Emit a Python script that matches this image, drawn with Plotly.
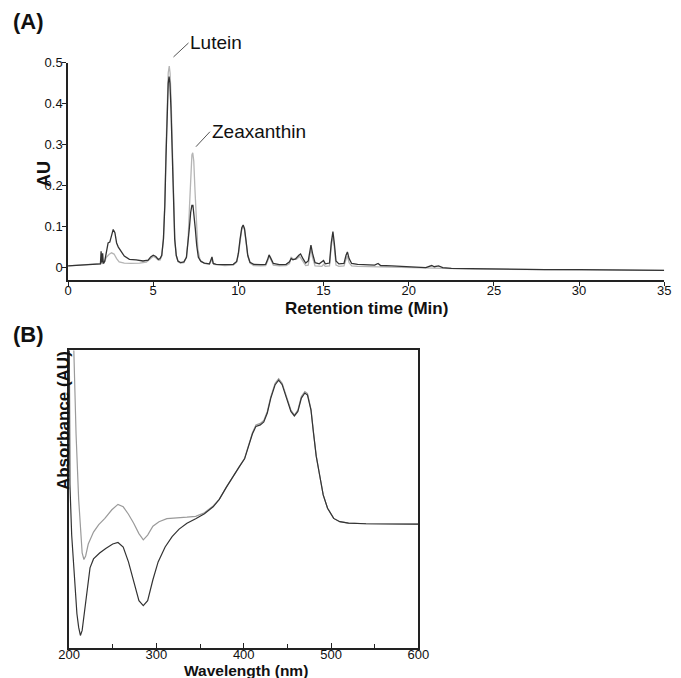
import plotly.graph_objs as go

# ---------------------------
# Data
# ---------------------------

# (A) HPLC chromatogram, retention time (min) vs AU
time_dark = [0, 0.5, 1.0, 1.5, 1.9, 1.94, 1.98, 2.03, 2.07, 2.15, 2.25, 2.35, 2.45, 2.55,
             2.65, 2.75, 2.85, 2.95, 3.1, 3.3, 3.6, 4.0, 4.4, 4.7, 4.85, 5.0, 5.15, 5.3,
             5.4, 5.5, 5.6, 5.68, 5.75, 5.82, 5.88, 5.93, 5.98, 6.04, 6.11, 6.18, 6.26,
             6.35, 6.45, 6.6, 6.8, 6.95, 7.05, 7.13, 7.2, 7.27, 7.33, 7.4, 7.47, 7.55,
             7.65, 7.8, 8.0, 8.3, 8.4, 8.45, 8.52, 8.7, 9.2, 9.7, 9.9, 10.0, 10.1, 10.2,
             10.28, 10.36, 10.45, 10.55, 10.68, 10.9, 11.3, 11.6, 11.72, 11.8, 11.9,
             12.05, 12.4, 12.8, 13.0, 13.1, 13.2, 13.35, 13.55, 13.65, 13.8, 13.95, 14.1,
             14.2, 14.26, 14.35, 14.5, 14.75, 14.92, 15.0, 15.1, 15.35, 15.45, 15.55,
             15.63, 15.73, 15.9, 16.2, 16.32, 16.4, 16.5, 16.65, 17.0, 17.5, 18.0, 18.2,
             18.35, 19.0, 20.0, 21.0, 21.35, 21.5, 21.75, 22.0, 22.5, 24, 26, 28, 30, 32, 35]
au_dark = [0.004, 0.005, 0.006, 0.008, 0.009, 0.04, 0.012, 0.035, 0.01, 0.015, 0.04, 0.06,
           0.062, 0.08, 0.093, 0.085, 0.06, 0.05, 0.04, 0.028, 0.02, 0.019, 0.016, 0.018,
           0.026, 0.03, 0.027, 0.02, 0.022, 0.03, 0.07, 0.15, 0.27, 0.39, 0.45, 0.466,
           0.45, 0.39, 0.27, 0.15, 0.07, 0.03, 0.016, 0.012, 0.014, 0.025, 0.06, 0.1,
           0.135, 0.152, 0.152, 0.13, 0.095, 0.055, 0.025, 0.015, 0.011, 0.009, 0.022,
           0.026, 0.01, 0.008, 0.007, 0.008, 0.015, 0.035, 0.07, 0.097, 0.104, 0.095,
           0.065, 0.03, 0.013, 0.008, 0.007, 0.008, 0.02, 0.031, 0.023, 0.01, 0.007,
           0.008, 0.014, 0.022, 0.019, 0.021, 0.03, 0.033, 0.021, 0.011, 0.016, 0.045,
           0.055, 0.035, 0.012, 0.009, 0.015, 0.017, 0.009, 0.011, 0.06, 0.088, 0.06,
           0.016, 0.009, 0.01, 0.03, 0.038, 0.022, 0.01, 0.008, 0.007, 0.006, 0.01,
           0.005, 0.004, 0.002, 0.0, 0.005, 0.002, 0.004, 0.0, -0.002, -0.003, -0.004,
           -0.005, -0.005, -0.006, -0.007]

time_light = [0, 1.0, 1.9, 2.1, 2.25, 2.4, 2.55, 2.7, 2.85, 3.0, 3.3, 3.7, 4.2, 4.6, 4.85,
              5.0, 5.15, 5.3, 5.4, 5.5, 5.6, 5.68, 5.75, 5.82, 5.88, 5.94, 5.99, 6.05,
              6.12, 6.19, 6.27, 6.36, 6.46, 6.6, 6.8, 6.95, 7.05, 7.13, 7.2, 7.27, 7.32,
              7.38, 7.45, 7.53, 7.62, 7.75, 8.0, 8.3, 8.45, 8.55, 9.2, 9.7, 9.9, 10.0,
              10.1, 10.2, 10.28, 10.36, 10.45, 10.55, 10.68, 10.9, 11.3, 11.6, 11.72,
              11.8, 11.9, 12.05, 12.4, 12.8, 13.0, 13.1, 13.25, 13.4, 13.6, 13.8, 13.95,
              14.1, 14.2, 14.26, 14.35, 14.5, 14.9, 15.0, 15.1, 15.35, 15.45, 15.55,
              15.63, 15.73, 15.9, 16.2, 16.32, 16.4, 16.5, 16.65, 17, 18, 19, 20, 21,
              22, 24, 28, 35]
au_light = [0.004, 0.006, 0.008, 0.01, 0.025, 0.032, 0.036, 0.033, 0.022, 0.014, 0.011,
            0.01, 0.011, 0.013, 0.022, 0.027, 0.024, 0.018, 0.018, 0.028, 0.07, 0.16,
            0.29, 0.41, 0.475, 0.492, 0.475, 0.41, 0.28, 0.15, 0.065, 0.028, 0.014,
            0.011, 0.012, 0.025, 0.07, 0.15, 0.23, 0.275, 0.28, 0.26, 0.19, 0.11, 0.045,
            0.018, 0.01, 0.008, 0.02, 0.008, 0.005, 0.006, 0.013, 0.032, 0.067, 0.094,
            0.1, 0.092, 0.062, 0.028, 0.011, 0.005, 0.004, 0.005, 0.016, 0.028, 0.02,
            0.006, 0.004, 0.005, 0.01, 0.025, 0.02, 0.02, 0.027, 0.014, 0.005, 0.006,
            0.035, 0.045, 0.025, 0.004, 0.003, 0.008, 0.003, 0.004, 0.05, 0.078, 0.05,
            0.006, 0.003, 0.004, 0.02, 0.028, 0.012, 0.004, 0.003, 0.002, 0.0, -0.001,
            -0.002, -0.003, -0.004, -0.005, -0.007]

lutein_t, lutein_au = 5.94, 0.492
zeaxanthin_t, zeaxanthin_au = 7.32, 0.28

# (B) UV-Vis spectra, wavelength (nm) vs absorbance (arbitrary units)
wl_dark = [200, 201, 203, 205.5, 209, 211, 213, 215, 218, 221, 224, 228, 235, 242, 250,
           256, 262, 268, 274, 280, 285, 290, 296, 302, 310, 318, 326, 335, 345, 355,
           365, 372, 380, 388, 395, 401, 406, 410, 414, 419, 423, 427, 431, 436, 440,
           444, 449, 454, 458, 462, 466, 470, 473, 477, 480, 483, 487, 491, 496, 503,
           510, 520, 540, 570, 600]
abs_dark = [1.2, 0.55, 0.38, 0.26, 0.116, 0.07, 0.043, 0.06, 0.13, 0.21, 0.27, 0.3, 0.32,
            0.335, 0.35, 0.355, 0.34, 0.29, 0.22, 0.16, 0.143, 0.16, 0.23, 0.29, 0.34,
            0.375, 0.4, 0.42, 0.435, 0.452, 0.475, 0.5, 0.54, 0.58, 0.61, 0.636, 0.68,
            0.72, 0.745, 0.75, 0.76, 0.79, 0.84, 0.885, 0.9, 0.885, 0.84, 0.795, 0.78,
            0.795, 0.84, 0.857, 0.85, 0.8, 0.72, 0.645, 0.58, 0.515, 0.47, 0.436, 0.425,
            0.42, 0.418, 0.417, 0.417]

wl_light = [200, 205, 208, 211, 213, 215, 217, 219, 222, 228, 234, 241, 249, 256, 262,
            268, 274, 280, 285, 290, 296, 303, 312, 325, 335, 345, 355, 365, 372, 380,
            388, 395, 401, 406, 410, 414, 419, 423, 427, 431, 436, 440, 444, 449, 454,
            458, 462, 466, 470, 473, 477, 480, 483, 487, 491, 496, 503, 510, 520, 540,
            570, 600]
abs_light = [1.6, 1.0, 0.72, 0.5, 0.39, 0.32, 0.298, 0.31, 0.35, 0.39, 0.415, 0.436,
             0.465, 0.483, 0.475, 0.45, 0.42, 0.385, 0.364, 0.38, 0.41, 0.425, 0.435,
             0.437, 0.44, 0.443, 0.455, 0.478, 0.5, 0.54, 0.58, 0.61, 0.638, 0.683,
             0.724, 0.75, 0.755, 0.765, 0.795, 0.845, 0.89, 0.905, 0.89, 0.845, 0.8,
             0.783, 0.8, 0.845, 0.862, 0.855, 0.803, 0.722, 0.646, 0.58, 0.515, 0.47,
             0.436, 0.425, 0.42, 0.418, 0.417, 0.417]


# ---------------------------
# Figure
# ---------------------------

FONT = "Liberation Sans, Arial, sans-serif"
DARK = "#333333"
LIGHT = "#b5b5b5"

ya_range = [-0.0306, 0.5]
ya_domain = [0.593, 0.917]

fig = go.Figure()

fig.add_trace(go.Scatter(x=time_light, y=au_light, mode="lines",
                         line=dict(color=LIGHT, width=1.3), xaxis="x", yaxis="y"))
fig.add_trace(go.Scatter(x=time_dark, y=au_dark, mode="lines",
                         line=dict(color=DARK, width=1.3), xaxis="x", yaxis="y"))
fig.add_trace(go.Scatter(x=wl_light, y=abs_light, mode="lines",
                         line=dict(color="#9a9a9a", width=1.2), xaxis="x2", yaxis="y2"))
fig.add_trace(go.Scatter(x=wl_dark, y=abs_dark, mode="lines",
                         line=dict(color=DARK, width=1.2), xaxis="x2", yaxis="y2"))


def paper_y(v):
    # map an AU value of panel A to paper coordinates
    frac = (v - ya_range[0]) / (ya_range[1] - ya_range[0])
    return ya_domain[0] + frac * (ya_domain[1] - ya_domain[0])


annotations = [
    dict(x=lutein_t + 0.25, y=paper_y(lutein_au + 0.022), xref="x", yref="paper",
         text="Lutein", showarrow=True, arrowhead=0, arrowwidth=1, arrowcolor="#555",
         ax=15, ay=-14, xanchor="left", yanchor="middle",
         font=dict(size=19, color="#111", family=FONT)),
    dict(x=zeaxanthin_t + 0.19, y=paper_y(zeaxanthin_au + 0.015), xref="x", yref="paper",
         text="Zeaxanthin", showarrow=True, arrowhead=0, arrowwidth=1, arrowcolor="#555",
         ax=14, ay=-15, xanchor="left", yanchor="middle",
         font=dict(size=19, color="#111", family=FONT)),
    dict(x=0.0, y=0.978, xref="paper", yref="paper", text="<b>(A)</b>", showarrow=False,
         xanchor="left", yanchor="middle", font=dict(size=22, color="#111", family=FONT)),
    dict(x=0.0, y=0.512, xref="paper", yref="paper", text="<b>(B)</b>", showarrow=False,
         xanchor="left", yanchor="middle", font=dict(size=22, color="#111", family=FONT)),
    dict(x=0.031, y=0.774, xref="paper", yref="paper", text="<b>AU</b>", showarrow=False,
         textangle=-90, font=dict(size=18, color="#111", family=FONT)),
    dict(x=0.539, y=0.551, xref="paper", yref="paper", text="<b>Retention time (Min)</b>",
         showarrow=False, font=dict(size=17, color="#111", family=FONT)),
    dict(x=0.0624, y=0.2773, xref="paper", yref="paper", text="<b>Absorbance (AU)</b>",
         showarrow=False, textangle=-90, font=dict(size=17, color="#111", family=FONT)),
    dict(x=0.357, y=-0.004, xref="paper", yref="paper", text="<b>Wavelength (nm)</b>",
         showarrow=False, yanchor="bottom", font=dict(size=15.5, color="#111", family=FONT)),
]

fig.update_layout(
    width=681, height=678, autosize=False,
    margin=dict(l=0, r=0, t=0, b=0),
    paper_bgcolor="white", plot_bgcolor="white",
    showlegend=False,
    font=dict(family=FONT, size=13, color="#111"),
    annotations=annotations,
    xaxis=dict(domain=[0.0866, 0.9912], range=[0, 35], anchor="y",
               tickvals=[0, 5, 10, 15, 20, 25, 30, 35],
               showline=True, linecolor="#222", linewidth=1.6,
               ticks="outside", ticklen=4, tickwidth=1.2, tickcolor="#222",
               ticklabelstandoff=-6,
               showgrid=False, zeroline=False, tickfont=dict(size=13)),
    yaxis=dict(domain=ya_domain, range=ya_range, anchor="x",
               tickvals=[0, 0.1, 0.2, 0.3, 0.4, 0.5],
               ticktext=["0", "0.1", "0.2", "0.3", "0.4", "0.5"],
               showline=True, linecolor="#222", linewidth=1.6,
               ticks="outside", ticklen=4, tickwidth=1.2, tickcolor="#222",
               ticklabelstandoff=-3,
               showgrid=False, zeroline=False, tickfont=dict(size=13)),
    xaxis2=dict(domain=[0.0881, 0.6182], range=[200, 600], anchor="y2",
                tickvals=[200, 300, 400, 500, 600],
                showline=True, mirror=True, linecolor="#222", linewidth=1.6,
                ticks="inside", ticklen=5, tickwidth=1.2, tickcolor="#222",
                minor=dict(tickvals=[250, 350, 450, 550], ticks="inside", ticklen=4,
                           tickwidth=1.2, tickcolor="#222"),
                ticklabelstandoff=-7,
                showgrid=False, zeroline=False, tickfont=dict(size=13)),
    yaxis2=dict(domain=[0.0443, 0.4882], range=[0, 1], anchor="x2",
                showline=True, mirror=True, linecolor="#222", linewidth=1.6,
                ticks="", showticklabels=False, showgrid=False, zeroline=False),
)

# page body margin would shift the figure by 8px inside the 681x678 window
fig.write_html("out.html", config={"displayModeBar": False},
               post_script="document.body.style.margin='0';")
